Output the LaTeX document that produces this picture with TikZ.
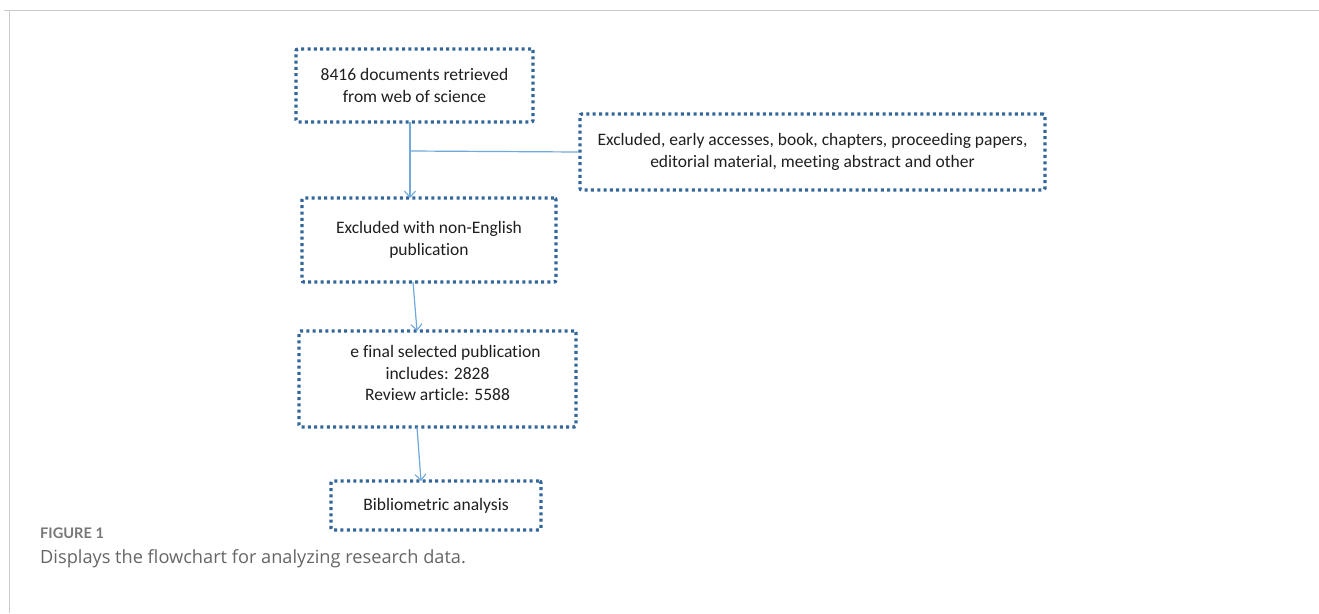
\documentclass[tikz,border=0pt]{standalone}
\usepackage{fontspec}
\setmainfont{Carlito}[Ligatures=NoCommon]
\newfontfamily\capfont{Open Sans}
\newfontfamily\figfont{Lato}
\usetikzlibrary{arrows.meta}
\definecolor{dotblue}{HTML}{336699}
\definecolor{linkblue}{HTML}{6FA8DC}
\definecolor{framegray}{HTML}{CCCCCC}
\definecolor{capgray}{HTML}{666666}
\definecolor{figgray}{HTML}{777777}
\tikzset{
  dotbox/.style={draw=dotblue, line width=3.4pt, dash pattern=on 3pt off 3.3pt,
     rounded corners=2pt, align=center, inner sep=0pt, font=\fontsize{17.5}{21.5}\selectfont, text=black!88},
  link/.style={draw=linkblue, line width=1.2pt},
  arr/.style={link, -{Straight Barb[length=6pt,width=11pt,line width=1.1pt]}}
}
\begin{document}
\begin{tikzpicture}[x=1pt,y=-1pt]
\useasboundingbox (0,0) rectangle (1319,613);
\fill[white] (0,0) rectangle (1319,613);
\draw[framegray, line width=1pt] (4,10) -- (1319,10) (9,10) -- (9,613);
\node[dotbox, minimum width=237pt, minimum height=73pt] (b1) at (414.5,85.5)
  {8416 documents retrieved\\from web of science};
\node[dotbox, minimum width=465pt, minimum height=76pt] (b2) at (812.5,152)
  {Excluded, early accesses, book, chapters, proceeding papers,\\editorial material, meeting abstract and other};
\node[dotbox, minimum width=254pt, minimum height=84pt] (b3) at (429,240)
  {Excluded with non-English\\publication};
\node[dotbox, minimum width=277pt, minimum height=96pt] (b4) at (437.5,379)
  {\hspace*{16pt}e final selected publication\\includes: 2828\\Review article: 5588\\[-9.5pt]\mbox{}};
\node[dotbox, minimum width=210pt, minimum height=49pt] (b5) at (436,505.5)
  {Bibliometric analysis};
\coordinate (j) at (410,151);
\draw[arr] (410,122) -- (410,198);
\draw[link] (j) -- (b2.west);
\draw[arr] (413,282) -- (417,331);
\draw[arr] (417,427) -- (421,481);
\node[anchor=base west, inner sep=0pt, text=figgray, font=\figfont\bfseries\fontsize{14.6}{16}\selectfont] (cap1) at (40,538) {FIGURE 1};
\node[anchor=base west, inner sep=0pt, text=capgray, font=\capfont\fontsize{18.2}{21}\selectfont] (cap2) at (40,563) {Displays the flowchart for analyzing research data.};
\end{tikzpicture}
\end{document}
